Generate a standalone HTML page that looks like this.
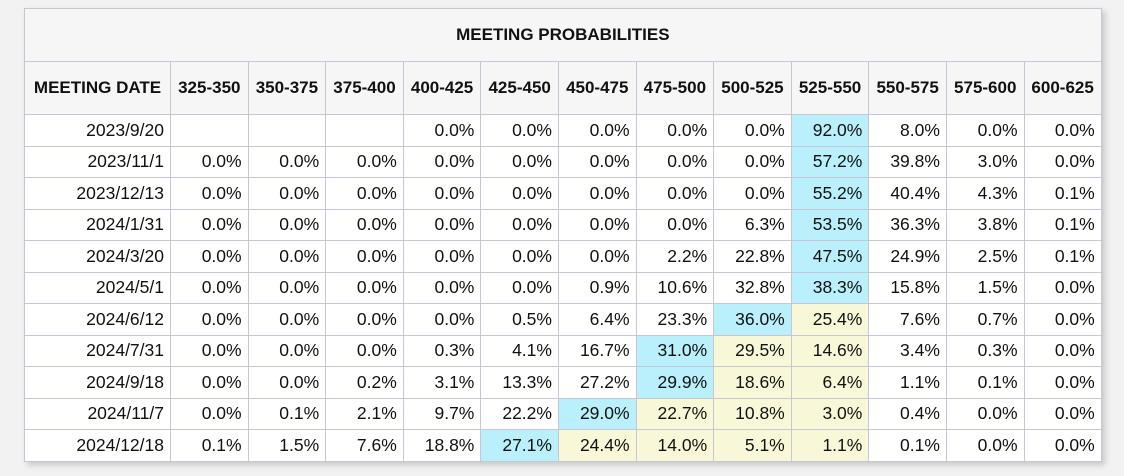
<!DOCTYPE html>
<html><head><meta charset="utf-8">
<style>
html,body{margin:0;padding:0;background:#f2f2f2;width:1124px;height:476px;overflow:hidden;font-family:"Liberation Sans",Arial,sans-serif;}
table{position:absolute;left:24px;top:8px;border-collapse:collapse;table-layout:fixed;width:1077px;background:#fff;box-shadow:3px 3px 6px rgba(0,0,0,0.18);}
td,th{border:1px solid #c6c6d6;font-size:17.5px;color:#111;padding:0 6px 0 0;white-space:nowrap;overflow:hidden;}
th{background:#f6f6f6;font-weight:bold;text-align:center;padding:0;font-size:17px;}
th.title{height:52px;font-size:17px;}
tr.hdr th{height:52px;}
td{height:30.5px;text-align:right;}
td.cy{background:#b9f0fb;}
td.ye{background:#f8f8d8;}
</style></head><body>
<table>
<colgroup><col style="width:146px"><col span="11" style="width:77.6px"><col style="width:77px"></colgroup>
<thead>
<tr><th class="title" colspan="13">MEETING PROBABILITIES</th></tr>
<tr class="hdr" id="hdr"></tr>
</thead>
<tbody id="body"></tbody>
</table>
<script>
const ranges=["325-350","350-375","375-400","400-425","425-450","450-475","475-500","500-525","525-550","550-575","575-600","600-625"];
const dates=["2023/9/20","2023/11/1","2023/12/13","2024/1/31","2024/3/20","2024/5/1","2024/6/12","2024/7/31","2024/9/18","2024/11/7","2024/12/18"];
const r0=[null,null,null,0.0,0.0,0.0,0.0,0.0,92.0,8.0,0.0,0.0];
const r1=[0,0,0,0,0,0,0,0,57.2,39.8,3.0,0.0];
const r2=[0,0,0,0,0,0,0,0,55.2,40.4,4.3,0.1];
const r3=[0,0,0,0,0,0,0,6.3,53.5,36.3,3.8,0.1];
const r4=[0,0,0,0,0,0,2.2,22.8,47.5,24.9,2.5,0.1];
const r5=[0,0,0,0,0,0.9,10.6,32.8,38.3,15.8,1.5,0.0];
const r6=[0,0,0,0,0.5,6.4,23.3,36.0,25.4,7.6,0.7,0.0];
const r7=[0,0,0,0.3,4.1,16.7,31.0,29.5,14.6,3.4,0.3,0.0];
const r8=[0,0,0.2,3.1,13.3,27.2,29.9,18.6,6.4,1.1,0.1,0.0];
const r9=[0,0.1,2.1,9.7,22.2,29.0,22.7,10.8,3.0,0.4,0.0,0.0];
const r10=[0.1,1.5,7.6,18.8,27.1,24.4,14.0,5.1,1.1,0.1,0.0,0.0];
const rows=[r0,r1,r2,r3,r4,r5,r6,r7,r8,r9,r10];
const currentIdx=8;
const hdr=document.getElementById('hdr');
const th0=document.createElement('th');


th0.textContent='MEETING DATE';hdr.appendChild(th0);
ranges.forEach(r=>{const th=document.createElement('th');


th.textContent=r;hdr.appendChild(th);});
const body=document.getElementById('body');
rows.forEach((row,i)=>{
 const tr=document.createElement('tr');
 
 
 const d=document.createElement('td');
 
 
 d.textContent=dates[i];tr.appendChild(d);
 let mx=-1,mi=0;row.forEach((v,j)=>{if(v!==null&&v>mx){mx=v;mi=j;}});
 row.forEach((v,j)=>{
  const td=document.createElement('td');
  
  
  if(v!==null){td.textContent=v.toFixed(1)+'%';
   if(j===mi)td.className='cy';else if(j>mi&&j<=currentIdx)td.className='ye';}
  tr.appendChild(td);});
 body.appendChild(tr);
});
</script>
</body></html>
